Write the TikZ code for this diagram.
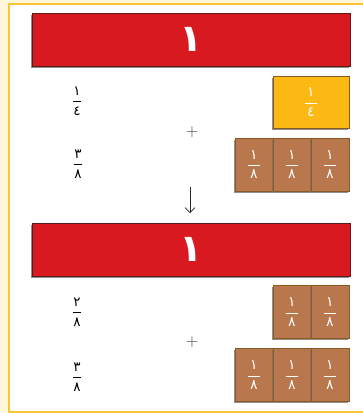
\documentclass[tikz,border=0pt]{standalone}
\usepackage{fontspec}
\newfontfamily\arabicfont[Script=Arabic]{DejaVu Sans}
\usetikzlibrary{shadows,arrows.meta}
\definecolor{cream}{HTML}{FFF8D8}
\definecolor{frameor}{HTML}{FCC537}
\definecolor{barred}{HTML}{D81920}
\definecolor{barline}{HTML}{5A1A1A}
\definecolor{quarter}{HTML}{FDB913}
\definecolor{brownfill}{HTML}{B8774C}
\definecolor{brownline}{HTML}{8A5A22}
\newcommand{\afr}[2]{$\displaystyle\frac{\mbox{\arabicfont #1}}{\mbox{\arabicfont #2}}$}
\newcommand{\bfr}[2]{$\displaystyle\frac{\makebox[0.9em]{\arabicfont #1}}{\makebox[0.9em]{\arabicfont #2}}$}
\tikzset{
  shd/.style={drop shadow={shadow xshift=-1.5pt, shadow yshift=-1.5pt, fill=black!55, opacity=0.8}},
  redbar/.style={shd, draw=barline, line width=0.8pt, fill=barred, minimum width=318pt, minimum height=53pt, inner sep=0pt, text=white, font=\arabicfont\bfseries\fontsize{38}{38}\selectfont},
  quarterbox/.style={shd, draw=brownline, line width=0.8pt, fill=quarter, minimum width=76pt, minimum height=52pt, inner sep=0pt, text=white, font=\fontsize{14}{14}\selectfont},
  eighth/.style={shd, draw=brownline, line width=1pt, fill=brownfill, minimum width=38pt, minimum height=53pt, inner sep=0pt, text=white, font=\fontsize{14}{14}\selectfont},
  lfrac/.style={inner sep=0pt, text=black, font=\fontsize{13.5}{13.5}\selectfont},
  plussign/.style={inner sep=0pt, text=black!75, font=\fontsize{16}{16}\selectfont},
}
\begin{document}
\begin{tikzpicture}[x=1pt,y=-1pt]
\useasboundingbox (0,0) rectangle (363,413);
\fill[cream] (0,0) rectangle (363,413);
\draw[frameor, line width=2pt, fill=white] (9,4) rectangle (372,411.5);
% top group
\node[redbar] (bar1) at (191,39.5) {١};
\node[quarterbox] (q) at (311,102) {\bfr{١}{٤}};
\node[eighth] (e1) at (254,164.5) {\bfr{١}{٨}};
\node[eighth] (e2) at (292,164.5) {\bfr{١}{٨}};
\node[eighth] (e3) at (330,164.5) {\bfr{١}{٨}};
\node[lfrac] (f1) at (77,101) {\afr{١}{٤}};
\node[lfrac] (f2) at (78,164) {\afr{٣}{٨}};
\node[plussign] (p1) at (192,132) {$+$};
\coordinate (a1) at (190,187);
\coordinate (a2) at (190,213);
\draw[black!85, line width=0.7pt, -{Straight Barb[length=5pt,width=10pt]}] (a1) -- (a2);
% bottom group
\node[redbar] (bar2) at (191,249.5) {١};
\node[eighth] (g1) at (292,312) {\bfr{١}{٨}};
\node[eighth] (g2) at (330,312) {\bfr{١}{٨}};
\node[eighth] (h1) at (254,375) {\bfr{١}{٨}};
\node[eighth] (h2) at (292,375) {\bfr{١}{٨}};
\node[eighth] (h3) at (330,375) {\bfr{١}{٨}};
\node[lfrac] (f3) at (77,312) {\afr{٢}{٨}};
\node[lfrac] (f4) at (77,377) {\afr{٣}{٨}};
\node[plussign] (p2) at (192,342) {$+$};
\end{tikzpicture}
\end{document}
